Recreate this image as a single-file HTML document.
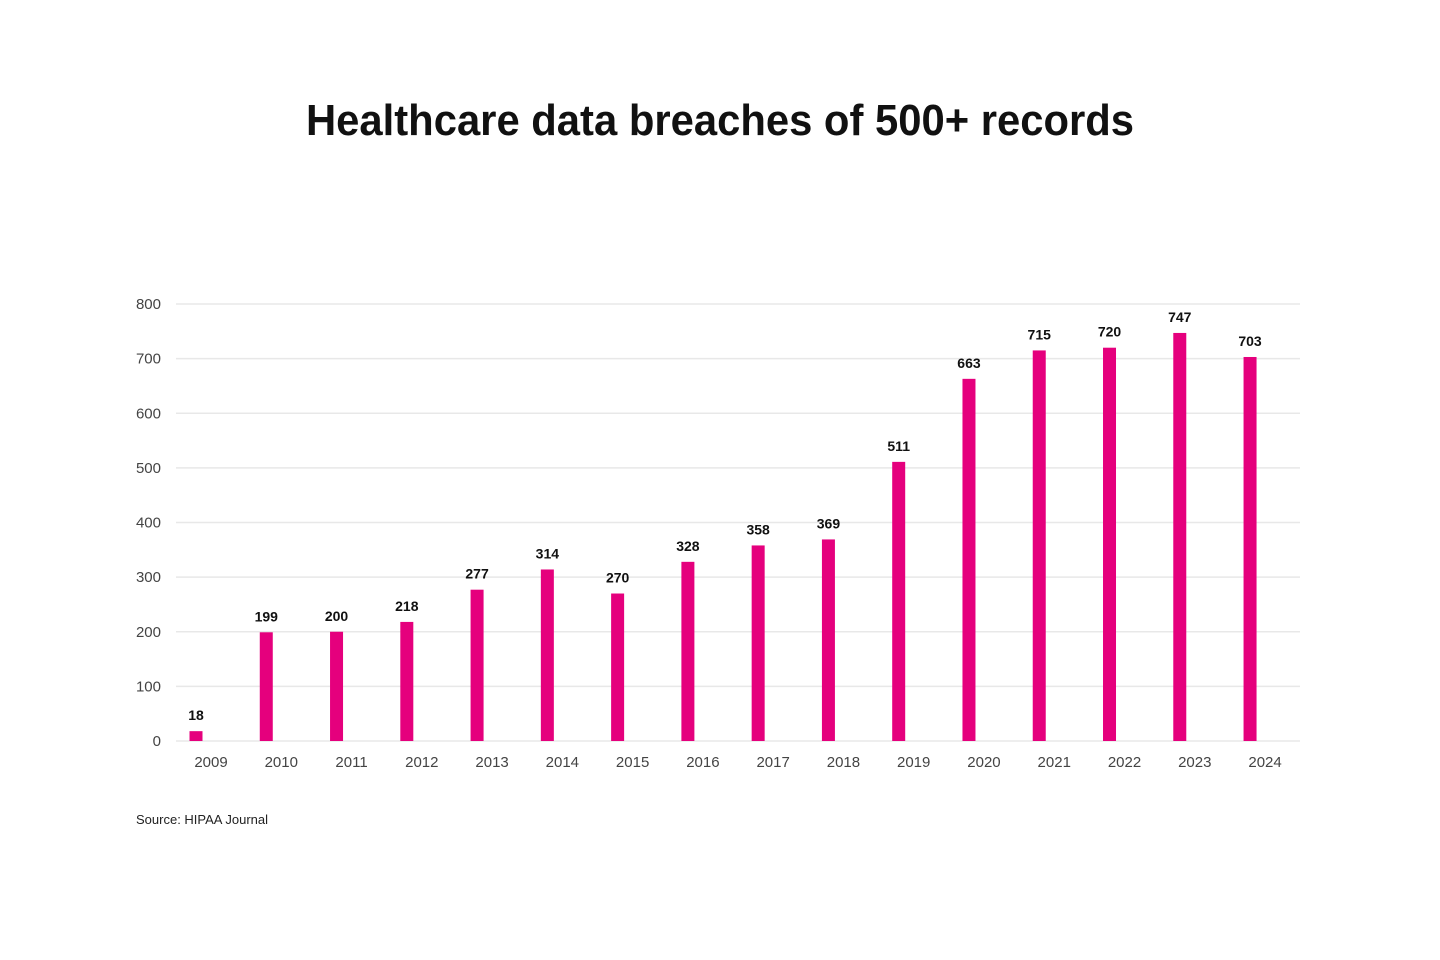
<!DOCTYPE html>
<html><head><meta charset="utf-8"><style>
html,body{margin:0;padding:0;background:#fff;}
svg{display:block;font-family:"Liberation Sans",sans-serif;}
</style></head><body>
<svg width="1440" height="960" viewBox="0 0 1440 960" xmlns="http://www.w3.org/2000/svg">
<rect width="1440" height="960" fill="#fff"/>
<text x="306" y="135" font-size="44" font-weight="bold" fill="#111" textLength="828" lengthAdjust="spacingAndGlyphs">Healthcare data breaches of 500+ records</text>
<text x="136" y="824" font-size="13" fill="#222">Source: HIPAA Journal</text>
<script>
var ns="http://www.w3.org/2000/svg";
var svg=document.querySelector('svg');
function el(t,a,txt){var e=document.createElementNS(ns,t);for(var k in a)e.setAttribute(k,a[k]);if(txt!==undefined)e.textContent=txt;svg.appendChild(e);return e;}
var y0=741,s=437/800;
for(var v=0;v<=800;v+=100){var y=y0-v*s;
el('line',{x1:176,x2:1300,y1:y,y2:y,stroke:'#e8e8e8','stroke-width':1.5});
el('text',{x:161,y:y+5,'font-size':15,fill:'#444','text-anchor':'end'},v);}
var d=[18,199,200,218,277,314,270,328,358,369,511,663,715,720,747,703];
for(var i=0;i<16;i++){var cx=196+i*70.27,h=d[i]*s;
el('rect',{x:cx-6.5,y:y0-h,width:13,height:h,fill:'#e5007d'});
el('text',{x:cx,y:y0-h-11,'font-size':14,'font-weight':'bold',fill:'#111','text-anchor':'middle'},d[i]);
el('text',{x:cx+15,y:767,'font-size':15,fill:'#444','text-anchor':'middle'},2009+i);}
</script>
</svg>
</body></html>
